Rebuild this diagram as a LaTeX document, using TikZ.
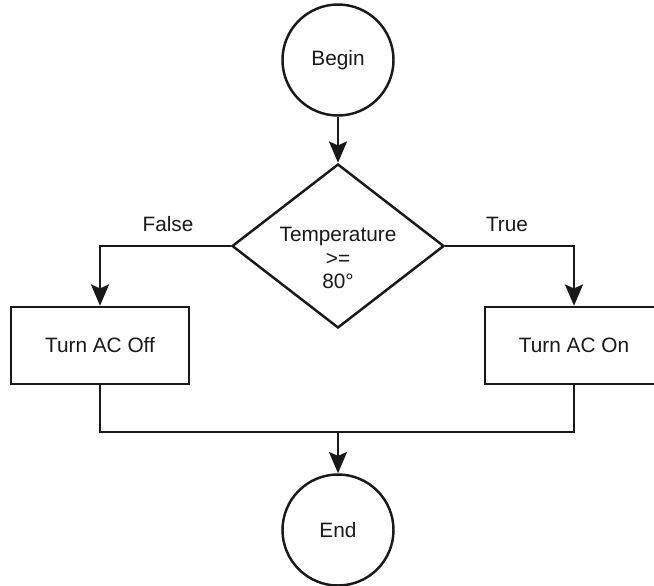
\documentclass[tikz,border=0pt]{standalone}
\usepackage{fontspec}
\setmainfont{Liberation Sans}
\usetikzlibrary{arrows.meta,shapes.geometric}
\begin{document}
\begin{tikzpicture}[x=0.75pt,y=-0.75pt,
  every node/.style={font=\fontsize{15.6pt}{17.4pt}\selectfont,text=black!90},
  line/.style={line width=1.85pt,draw=black!90},
  arr/.style={line width=1.85pt, draw=black!90, -{Stealth[length=16pt,width=13.5pt,inset=3pt]}},
  term/.style={circle,line width=1.85pt,draw=black!90,minimum size=111*0.75pt,inner sep=0pt},
  proc/.style={rectangle,line width=1.85pt,draw=black!90,minimum width=178*0.75pt,minimum height=77*0.75pt,inner sep=0pt},
  decis/.style={diamond,line width=1.85pt,draw=black!90,minimum width=212*0.75pt,minimum height=164*0.75pt,inner sep=0pt,aspect=1.29}]
\useasboundingbox (0,0) rectangle (654,586);
\node[term] (begin) at (338,60) {Begin};
\node[decis] (dec) at (338,246) {};
\node[align=center,inner sep=0pt] (dectext) at (338,258) {Temperature\\>=\\80°};
\node[proc] (off) at (100,345.5) {Turn AC Off};
\node[proc] (on) at (574,345.5) {Turn AC On};
\node[term] (end) at (338,530) {End};
\node (false) at (168,224) {False};
\node (true) at (507,224) {True};
\coordinate (join) at (338,432);
\draw[arr] (begin.south) -- (dec.north);
\draw[arr] (dec.west) -| (off.north);
\draw[arr] (dec.east) -| (on.north);
\draw[line] (off.south) |- (join);
\draw[line] (on.south) |- (join);
\draw[arr] (join) -- (end.north);
\end{tikzpicture}
\end{document}
